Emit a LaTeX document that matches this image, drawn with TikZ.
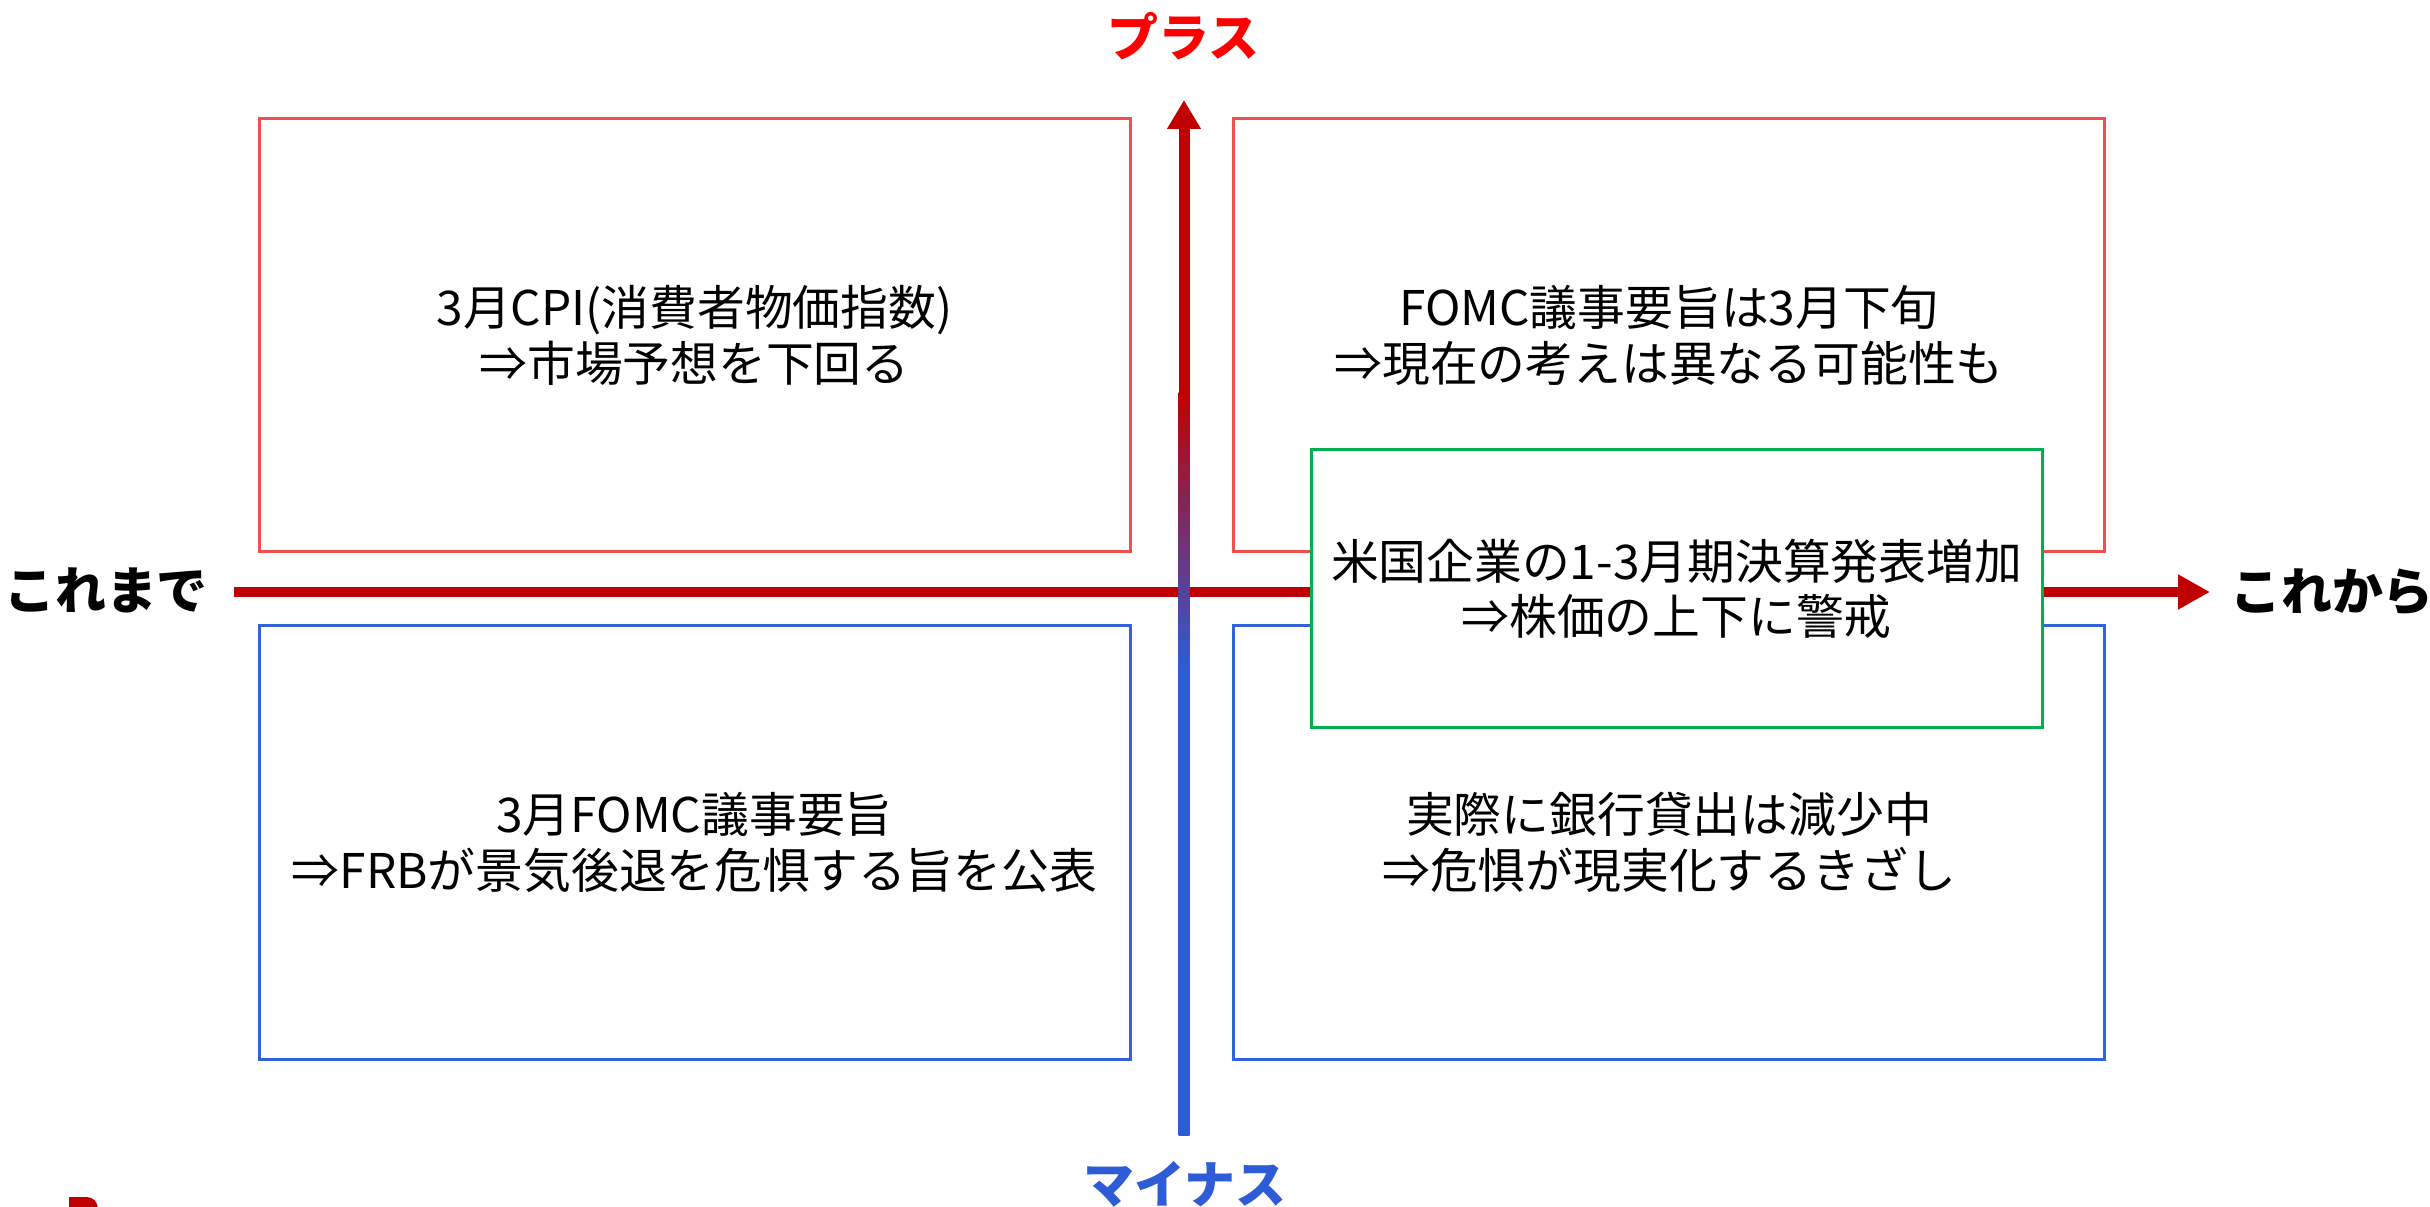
\documentclass[tikz,border=0pt]{standalone}
\usepackage{fontspec}
\setmainfont{Noto Sans CJK JP}
\usepackage{tikz}
\usetikzlibrary{arrows.meta}
\definecolor{boxred}{RGB}{238, 80, 80}
\definecolor{boxblue}{RGB}{52, 98, 218}
\definecolor{boxgreen}{RGB}{0, 176, 80}
\definecolor{axred}{RGB}{192, 0, 0}
\definecolor{axblue}{RGB}{46, 92, 214}
\definecolor{plusred}{RGB}{255, 0, 0}
\pgfdeclareverticalshading{axisshade}{100bp}{color(0bp)=(axblue); color(56.5bp)=(axblue); color(75bp)=(axred); color(100bp)=(axred)}

\begin{document}
\begin{tikzpicture}[scale=1.0,
  quad/.style={draw, line width=0.03cm, fill=white, minimum width=8.71cm, minimum height=4.33cm,
    align=center, inner sep=0pt, font=\fontsize{13.6}{15.8}\selectfont},
  lab/.style={inner sep=0pt, font=\fontsize{14.5}{16}\selectfont\bfseries}]

  \useasboundingbox (0, 0) rectangle (24.3, 12.06);
  \clip (0, 0) rectangle (24.3, 12.06);

  \node[quad, draw=boxred] (pastplus) at (6.945, 8.705) {3月CPI(消費者物価指数)\\⇒市場予想を下回る};
  \node[quad, draw=boxred] (nextplus) at (16.69, 8.705) {FOMC議事要旨は3月下旬\\⇒現在の考えは異なる可能性も};
  \node[quad, draw=boxblue] (pastminus) at (6.945, 3.635) {3月FOMC議事要旨\\⇒FRBが景気後退を危惧する旨を公表};
  \node[quad, draw=boxblue] (nextminus) at (16.69, 3.635) {実際に銀行貸出は減少中\\⇒危惧が現実化するきざし};

  \coordinate (hleft) at (2.34, 6.14);
  \coordinate (hright) at (22.10, 6.14);
  \draw[axred, line width=0.1cm, -{Triangle[length=0.32cm, width=0.33cm]}] (hleft) -- (hright);

  \coordinate (vbottom) at (11.84, 0.71);
  \coordinate (vred) at (11.84, 8.13);
  \coordinate (vtop) at (11.84, 11.06);
  \shade[shading=axisshade] ([xshift=-0.055cm]vbottom) rectangle ([xshift=0.055cm]vred);
  \draw[axred, line width=0.11cm, -{Triangle[length=0.29cm, width=0.32cm]}] ([yshift=-0.01cm]vred) -- (vtop);

  \node[quad, draw=boxgreen, minimum width=7.31cm, minimum height=2.78cm] (news) at (16.765, 6.17) {米国企業の1-3月期決算発表増加\\⇒株価の上下に警戒};

  \node[lab, plusred] (plus) at (11.83, 11.70) {プラス};
  \node[lab, axblue] (minus) at (11.85, 0.22) {マイナス};
  \node[lab] (past) at (1.06, 6.16) {これまで};
  \node[lab] (future) at (23.32, 6.14) {これから};

  \fill[axred] (0.69, -0.05) -- (0.69, 0.09) -- (0.86, 0.09) .. controls (0.93, 0.09) and (0.98, 0.05) .. (0.98, -0.05) -- cycle;

\end{tikzpicture}
\end{document}
